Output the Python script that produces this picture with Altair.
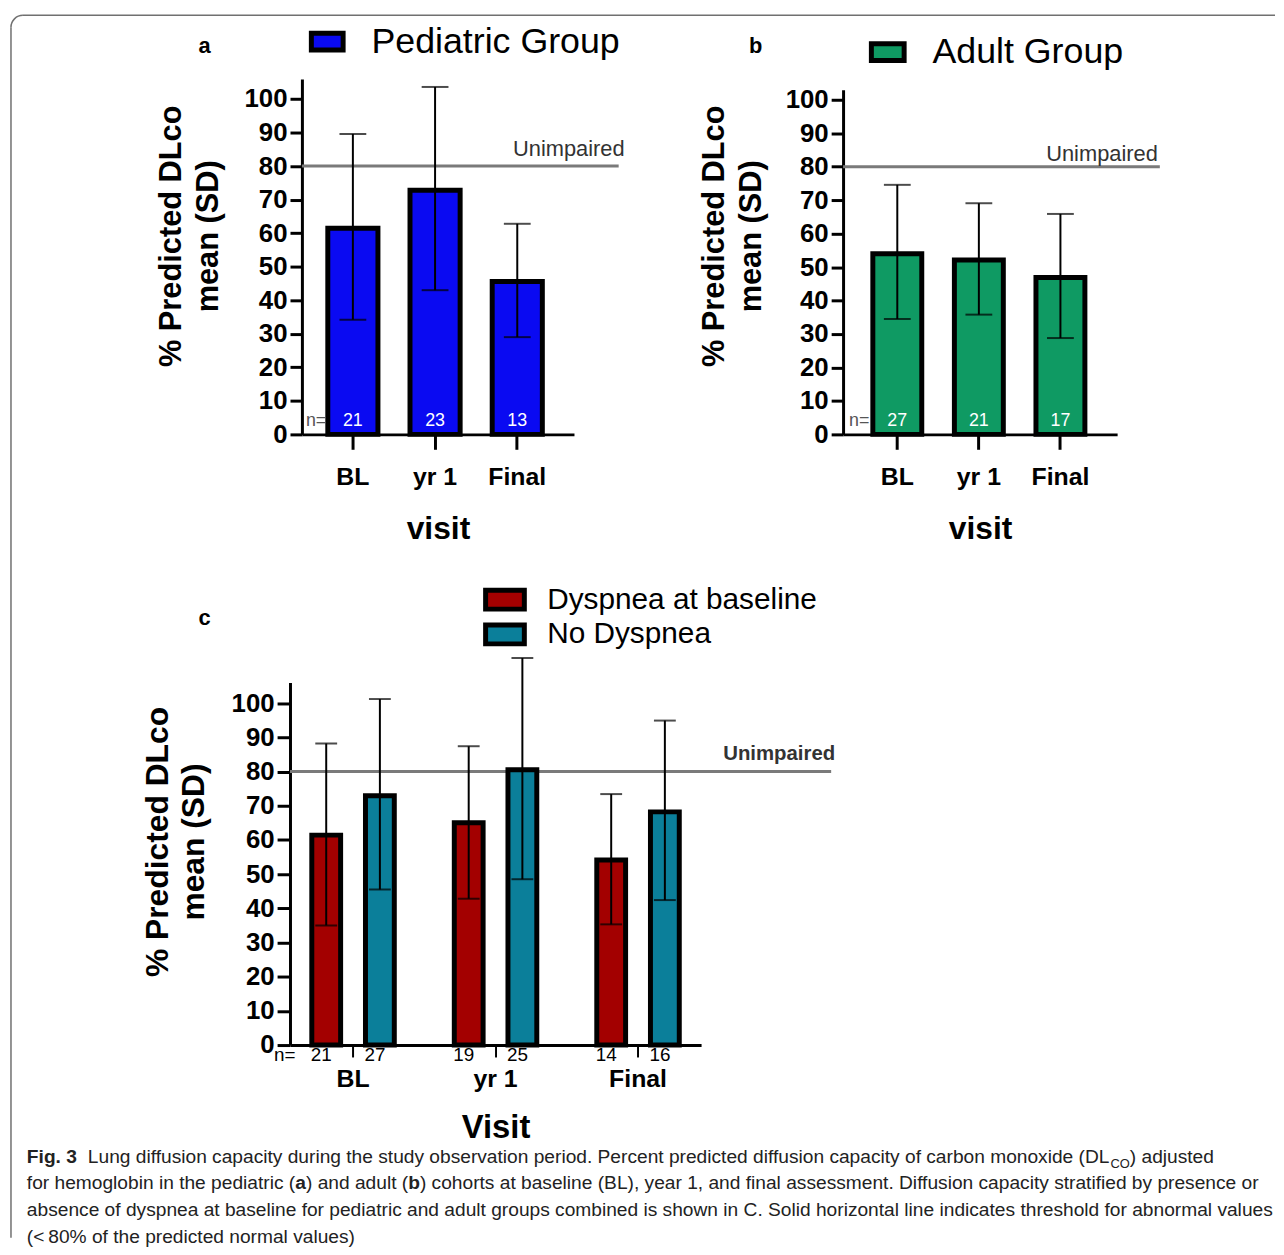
import math
import altair as alt
import pandas as pd

# ---------------- data ----------------
visits = ["BL", "yr 1", "Final"]

ped_mean = [61.5, 72.8, 45.6]
ped_lo = [34.2, 43.0, 29.0]
ped_hi = [89.6, 103.6, 62.8]
ped_n = ["21", "23", "13"]

adu_mean = [54.0, 52.1, 46.9]
adu_lo = [34.5, 35.8, 28.8]
adu_hi = [74.6, 69.1, 65.9]
adu_n = ["27", "21", "17"]

c_groups = ["Dyspnea at baseline", "No Dyspnea"]
dys_mean = [61.4, 65.0, 54.1]
dys_lo = [35.0, 42.8, 35.3]
dys_hi = [88.2, 87.4, 73.4]
dys_n = ["21", "19", "14"]
nod_mean = [72.9, 80.5, 68.2]
nod_lo = [45.5, 48.5, 42.4]
nod_hi = [101.2, 113.2, 94.9]
nod_n = ["27", "25", "16"]

threshold = 80
y_ticks = [0, 10, 20, 30, 40, 50, 60, 70, 80, 90, 100]
y_title = ["% Predicted DLco", "mean (SD)"]

# caption: lines of runs (text, style)  style: n = normal, b = bold, s = subscript, g = gap
caption_runs = [
    [("Fig. 3", "b"), ("", "g"),
     ("Lung diffusion capacity during the study observation period. Percent predicted diffusion capacity of carbon monoxide (DL", "n"),
     ("CO", "s"), (") adjusted", "n")],
    [("for hemoglobin in the pediatric (", "n"), ("a", "b"), (") and adult (", "n"), ("b", "b"),
     (") cohorts at baseline (BL), year 1, and final assessment. Diffusion capacity stratified by presence or", "n")],
    [("absence of dyspnea at baseline for pediatric and adult groups combined is shown in C. Solid horizontal line indicates threshold for abnormal values", "n")],
    [("(<\u200980% of the predicted normal values)", "n")],
]
caption_line_y = [1167, 1193, 1220, 1247]

# ---------------- styles ----------------
FONT = "Liberation Sans"
BLUE = "#0a0af2"
GREEN = "#0f9a63"
RED = "#a30000"
TEAL = "#0b7f9a"
REF_GRAY = "#7a7a7a"
FRAME = "#707070"
CAP_SIZE = 19.3
SUB_SIZE = 13
CAP_X0 = 26
CAP_GAP = 11

# Arial / Liberation Sans advance widths (1/1000 em), for laying caption runs end to end
_AR = {" ": 278, "!": 278, "%": 889, "(": 333, ")": 333, ",": 278, "-": 333, ".": 278, "<": 584,
       "\u2009": 200, ":": 278, ";": 278, "/": 278,
       "A": 667, "B": 667, "C": 722, "D": 722, "E": 667, "F": 611, "G": 778, "H": 722, "I": 278,
       "J": 500, "K": 667, "L": 556, "M": 833, "N": 722, "O": 778, "P": 667, "Q": 778, "R": 722,
       "S": 667, "T": 611, "U": 722, "V": 667, "W": 944, "X": 667, "Y": 667, "Z": 611,
       "a": 556, "b": 556, "c": 500, "d": 556, "e": 556, "f": 278, "g": 556, "h": 556, "i": 222,
       "j": 222, "k": 500, "l": 222, "m": 833, "n": 556, "o": 556, "p": 556, "q": 556, "r": 333,
       "s": 500, "t": 278, "u": 556, "v": 500, "w": 722, "x": 500, "y": 500, "z": 500}
_AB = {" ": 278, ".": 278, "F": 611, "i": 278, "g": 611, "a": 556, "b": 611}


def text_w(s, size, bold=False):
    tab = _AB if bold else _AR
    return sum(tab.get(ch, 556) for ch in s) * size / 1000.0


one = pd.DataFrame({"z": [0]})
thr_df = pd.DataFrame({"t": [threshold]})


def y_axis(title_x, title_y, offset=0, fs=26, tfs=31, tlh=37, tick=12):
    return alt.Axis(values=y_ticks, title=y_title, offset=offset, tickSize=tick, tickWidth=3,
                    domainWidth=3, labelFontSize=fs, labelFontWeight="bold", labelPadding=3,
                    labelFlush=False, titleFontSize=tfs, titleFontWeight="bold",
                    titleLineHeight=tlh, titleAngle=270, titleAlign="center",
                    titleBaseline="top", titleX=title_x, titleY=title_y, grid=False)


def note(text, x, y, **kw):
    return alt.Chart(one).mark_text(text=text, **kw).encode(x=alt.value(x), y=alt.value(y))


def simple_panel(means, los, his, ns, name, color, W, H, xr, pin, pout, balign,
                 ydom, yr, yoff, title_x, leg_x, leg_y, sym_path, sym_size, lab_off,
                 nlab_x, thr_x, thr_dy, letter, let_x, let_y, extra=()):
    df = pd.DataFrame({"visit": visits, "mean": means, "lo": los, "hi": his,
                       "n": ns, "group": [name] * 3})
    xs = alt.Scale(domain=visits, range=xr, paddingInner=pin, paddingOuter=pout, align=balign)
    xax = alt.Axis(title="visit", labelAngle=0, tickSize=15, tickWidth=3, domainWidth=3,
                   labelFontSize=25, labelFontWeight="bold", labelPadding=15,
                   titleFontSize=32, titleFontWeight="bold", titleY=105,
                   titleBaseline="alphabetic")
    x = alt.X("visit:N", sort=visits, scale=xs, axis=xax)
    skw = dict(domain=ydom, nice=False)
    if yr is not None:
        skw["range"] = yr
    ys = alt.Scale(**skw)
    yax = y_axis(title_x, 158, offset=yoff)
    base = alt.Chart(df)

    thr = alt.Chart(thr_df).mark_rule(color=REF_GRAY, strokeWidth=3).encode(
        y=alt.Y("t:Q", scale=ys, axis=yax), x=alt.value(xr[0]), x2=alt.value(W))
    thr_t = alt.Chart(thr_df).mark_text(text="Unimpaired", align="right", baseline="alphabetic",
                                        dy=thr_dy, fontSize=22, color="#333333").encode(
        y=alt.Y("t:Q", scale=ys, axis=yax), x=alt.value(thr_x))
    bars = base.mark_bar(stroke="black", strokeWidth=5, strokeJoin="miter").encode(
        x=x, y=alt.Y("mean:Q", scale=ys, axis=yax),
        color=alt.Color("group:N", scale=alt.Scale(domain=[name], range=[color]),
                        legend=alt.Legend(title=None, orient="none", legendX=leg_x, legendY=leg_y,
                                          symbolType=sym_path, symbolSize=sym_size,
                                          symbolStrokeColor="black", symbolStrokeWidth=5,
                                          symbolOpacity=1, labelFontSize=36, labelFont=FONT,
                                          labelColor="black", labelOffset=lab_off, labelLimit=0,
                                          padding=0)))
    err = base.mark_rule(color="black", strokeWidth=2).encode(
        x=x, y=alt.Y("lo:Q", scale=ys, axis=yax), y2="hi:Q")
    caps = base.transform_fold(["lo", "hi"], as_=["k", "v"]).mark_tick(
        color="black", thickness=2, size=27).encode(x=x, y=alt.Y("v:Q", scale=ys, axis=yax))
    ntext = base.transform_calculate(z="0").mark_text(
        color="white", fontSize=18, dy=-8, baseline="alphabetic").encode(
        x=x, y=alt.Y("z:Q", scale=ys, axis=yax), text="n:N")
    nlab = alt.Chart(one).mark_text(text="n=", align="left", baseline="alphabetic", dy=-8,
                                    fontSize=18, color="#555555").encode(
        x=alt.value(nlab_x), y=alt.Y("z:Q", scale=ys, axis=yax))
    lt = note(letter, let_x, let_y, fontWeight="bold", fontSize=22, baseline="middle")
    return alt.layer(thr, thr_t, bars, err, caps, ntext, nlab, lt, *extra).properties(
        width=W, height=H)


# page origin of each plot area
OA = (291, 75)
OB = (844, 75)
OC = (291, 680)

# decorative figure frame (drawn from panel a)
frame = [
    alt.Chart(one).mark_rule(color=FRAME, strokeWidth=1.5).encode(
        x=alt.value(10 - OA[0]), y=alt.value(23 - OA[1]), y2=alt.value(1242 - OA[1])),
    alt.Chart(one).mark_rule(color=FRAME, strokeWidth=1.5).encode(
        x=alt.value(22 - OA[0]), x2=alt.value(1283 - OA[0]), y=alt.value(11 - OA[1])),
    alt.Chart(one).mark_arc(color=FRAME, radius=12.75, radius2=11.25,
                            theta=3 * math.pi / 2, theta2=2 * math.pi).encode(
        x=alt.value(22 - OA[0]), y=alt.value(23 - OA[1])),
]

pa = simple_panel(ped_mean, ped_lo, ped_hi, ped_n, "Pediatric Group", BLUE,
                  W=331, H=358, xr=[12, 286], pin=0.39, pout=0.35, balign=0.45,
                  ydom=[0, 106], yr=None, yoff=-12, title_x=-146,
                  leg_x=19, leg_y=-56, sym_path="M-1,-0.53H1V0.53H-1Z", sym_size=1024, lab_off=26,
                  nlab_x=16, thr_x=337, thr_dy=-10, letter="a", let_x=205 - OA[0], let_y=42 - OA[1],
                  extra=frame)

pb = simple_panel(adu_mean, adu_lo, adu_hi, adu_n, "Adult Group", GREEN,
                  W=319, H=358, xr=[0, 276], pin=0.4, pout=0.38, balign=0.48,
                  ydom=[0, 103], yr=[358, 11], yoff=0, title_x=-144,
                  leg_x=26, leg_y=-46, sym_path="M-1,-0.515H1V0.515H-1Z", sym_size=1089, lab_off=26,
                  nlab_x=6, thr_x=317, thr_dy=-6, letter="b", let_x=756 - OB[0], let_y=42 - OB[1])

# ---------------- panel c ----------------
dc = pd.DataFrame({
    "visit": visits * 2,
    "grp": [c_groups[0]] * 3 + [c_groups[1]] * 3,
    "mean": dys_mean + nod_mean,
    "lo": dys_lo + nod_lo,
    "hi": dys_hi + nod_hi,
    "n": dys_n + nod_n,
})
xcs = alt.Scale(domain=visits, range=[0, 414], paddingInner=0.247, paddingOuter=0.066)
xcax = alt.Axis(title="Visit", labelAngle=0, tickSize=12, tickWidth=2, domainWidth=3,
                labelFontSize=25, labelFontWeight="bold", labelPadding=10,
                titleFontSize=33, titleFontWeight="bold", titleY=93, titleBaseline="alphabetic")
xc = alt.X("visit:N", sort=visits, scale=xcs, axis=xcax)
xo = alt.XOffset("grp:N", sort=c_groups,
                 scale=alt.Scale(domain=c_groups, paddingInner=0.463, paddingOuter=0.231))
ycs = alt.Scale(domain=[0, 106], nice=False)
ycax = y_axis(-148, 160, offset=0, fs=26, tfs=32, tlh=36, tick=13)
bc = alt.Chart(dc)

c_layers = [
    alt.Chart(thr_df).mark_rule(color=REF_GRAY, strokeWidth=3).encode(
        y=alt.Y("t:Q", scale=ycs, axis=ycax)),
    alt.Chart(thr_df).mark_text(text="Unimpaired", align="right", baseline="alphabetic", dy=-12,
                                fontSize=20.5, fontWeight="bold", color="#333333").encode(
        y=alt.Y("t:Q", scale=ycs, axis=ycax), x=alt.value(549)),
    bc.mark_bar(stroke="black", strokeWidth=5, strokeJoin="miter").encode(
        x=xc, xOffset=xo, y=alt.Y("mean:Q", scale=ycs, axis=ycax),
        color=alt.Color("grp:N", sort=c_groups, scale=alt.Scale(domain=c_groups, range=[RED, TEAL]),
                        legend=alt.Legend(title=None, orient="none", legendX=201, legendY=-99,
                                          direction="vertical",
                                          symbolType="M-1.5,-0.73H1.5V0.73H-1.5Z", symbolSize=676,
                                          symbolStrokeColor="black", symbolStrokeWidth=5,
                                          symbolOpacity=1, labelFontSize=30, labelFont=FONT,
                                          labelColor="black", labelOffset=27, rowPadding=-8,
                                          labelLimit=0, padding=0))),
    bc.mark_rule(color="black", strokeWidth=2).encode(
        x=xc, xOffset=xo, y=alt.Y("lo:Q", scale=ycs, axis=ycax), y2="hi:Q"),
    bc.transform_fold(["lo", "hi"], as_=["k", "v"]).mark_tick(
        color="black", thickness=2, size=22).encode(
        x=xc, xOffset=xo, y=alt.Y("v:Q", scale=ycs, axis=ycax)),
    bc.transform_calculate(z="0").mark_text(fontSize=19, baseline="top", dy=1, dx=-5,
                                            color="black").encode(
        x=xc, xOffset=xo, y=alt.Y("z:Q", scale=ycs, axis=ycax), text="n:N"),
    alt.Chart(one).mark_text(text="n=", align="left", baseline="top", dy=1, fontSize=19,
                             color="black").encode(
        x=alt.value(-16), y=alt.Y("z:Q", scale=ycs, axis=ycax)),
    note("c", 205 - OC[0], 615 - OC[1], fontWeight="bold", fontSize=22, baseline="middle"),
]

# caption runs laid out end to end using the font's advance widths
for ln, runs in enumerate(caption_runs):
    xp = CAP_X0
    for txt, st in runs:
        if st == "g":
            xp += CAP_GAP
            continue
        size = SUB_SIZE if st == "s" else CAP_SIZE
        dy = 5 if st == "s" else 0
        c_layers.append(note(txt, xp - OC[0], caption_line_y[ln] + dy - OC[1] - 3, align="left",
                             baseline="alphabetic", fontSize=size,
                             fontWeight="bold" if st == "b" else "normal", color="#222222"))
        xp += text_w(txt, size, st == "b")

pc = alt.layer(*c_layers).properties(width=545, height=365)

chart = alt.concat(pa, pb, pc, columns=2, spacing={"row": 250, "column": 12},
                   bounds="flush", align="each").resolve_scale(
    color="independent"
).properties(
    padding={"left": 2, "top": 2, "right": 0, "bottom": 0}, background="white"
).configure_view(stroke=None).configure_axis(
    domainColor="black", tickColor="black", labelColor="black", titleColor="black",
    labelFont=FONT, titleFont=FONT
).configure_text(font=FONT).configure_legend(labelFont=FONT)

chart.save("out.html", embed_options={"renderer": "svg", "actions": False})
